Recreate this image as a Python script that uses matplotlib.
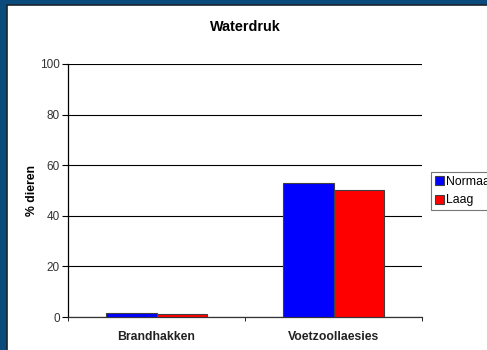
import matplotlib
matplotlib.use('Agg')
import matplotlib.pyplot as plt
import numpy as np
from matplotlib.patches import Rectangle

plt.rcParams['font.family'] = ['Liberation Sans', 'DejaVu Sans']

# Data
categories = ['Brandhakken', 'Voetzoollaesies']
normaal = [1.7, 52.8]
laag = [1.0, 50.2]
series_labels = ['Normaal', 'Laag']
y_ticks = [0, 20, 40, 60, 80, 100]

W, H = 487, 350
fig = plt.figure(figsize=(W / 100, H / 100), dpi=100)
fig.patch.set_facecolor('#0a4b7b')

# white slide area inside the navy frame
fig.patches.append(Rectangle((7 / W, -0.05), 1.05 - 7 / W, (H - 5) / H + 0.05,
                             transform=fig.transFigure, facecolor='white',
                             edgecolor='#1a2530', linewidth=1.2, zorder=-5))

ax = fig.add_axes([68 / W, (H - 317) / H, (422 - 68) / W, (317 - 64) / H])
ax.set_zorder(1)
ax.set_facecolor('white')

x = np.arange(len(categories))
width = 0.285
ax.bar(x - width / 2, normaal, width, color='#0000ff', edgecolor='#404040',
       linewidth=0.8, label=series_labels[0], zorder=3)
ax.bar(x + width / 2, laag, width, color='#ff0000', edgecolor='#404040',
       linewidth=0.8, label=series_labels[1], zorder=3)

ax.set_xlim(-0.5, len(categories) - 0.5)
ax.set_ylim(0, 100)
ax.set_yticks(y_ticks)
ax.set_yticklabels([str(v) for v in y_ticks], fontsize=8.5, color='#333333')
ax.set_xticks(x)
ax.set_xticklabels(categories, fontsize=8.8, fontweight='bold', color='#222222')
ax.set_xticks(np.arange(len(categories) + 1) - 0.5, minor=True)
ax.tick_params(axis='x', which='major', length=0, pad=10)
ax.tick_params(axis='x', which='minor', length=3, direction='out', color='black')
ax.tick_params(axis='y', length=4, direction='out', color='black', pad=2)

ax.grid(axis='y', color='black', linewidth=0.8, zorder=0)
ax.set_axisbelow(True)
for side in ['top', 'right']:
    ax.spines[side].set_visible(False)
ax.spines['left'].set_linewidth(0.9)
ax.spines['bottom'].set_linewidth(0.9)
ax.spines['bottom'].set_color('#333333')

ax.set_ylabel('% dieren', fontsize=8.8, fontweight='bold', labelpad=1)
ax.set_title('Waterdruk', fontsize=10.4, fontweight='bold', pad=24)

leg = fig.legend(loc='upper left', bbox_to_anchor=(431 / W, (H - 172) / H),
                 fontsize=8.8, frameon=True, fancybox=False, edgecolor='#555555',
                 handlelength=0.75, handleheight=0.75, handletextpad=0.15,
                 borderpad=0.3, labelspacing=0.55, borderaxespad=0)
leg.get_frame().set_linewidth(0.8)

fig.savefig('out.png', dpi=100, facecolor=fig.get_facecolor())
